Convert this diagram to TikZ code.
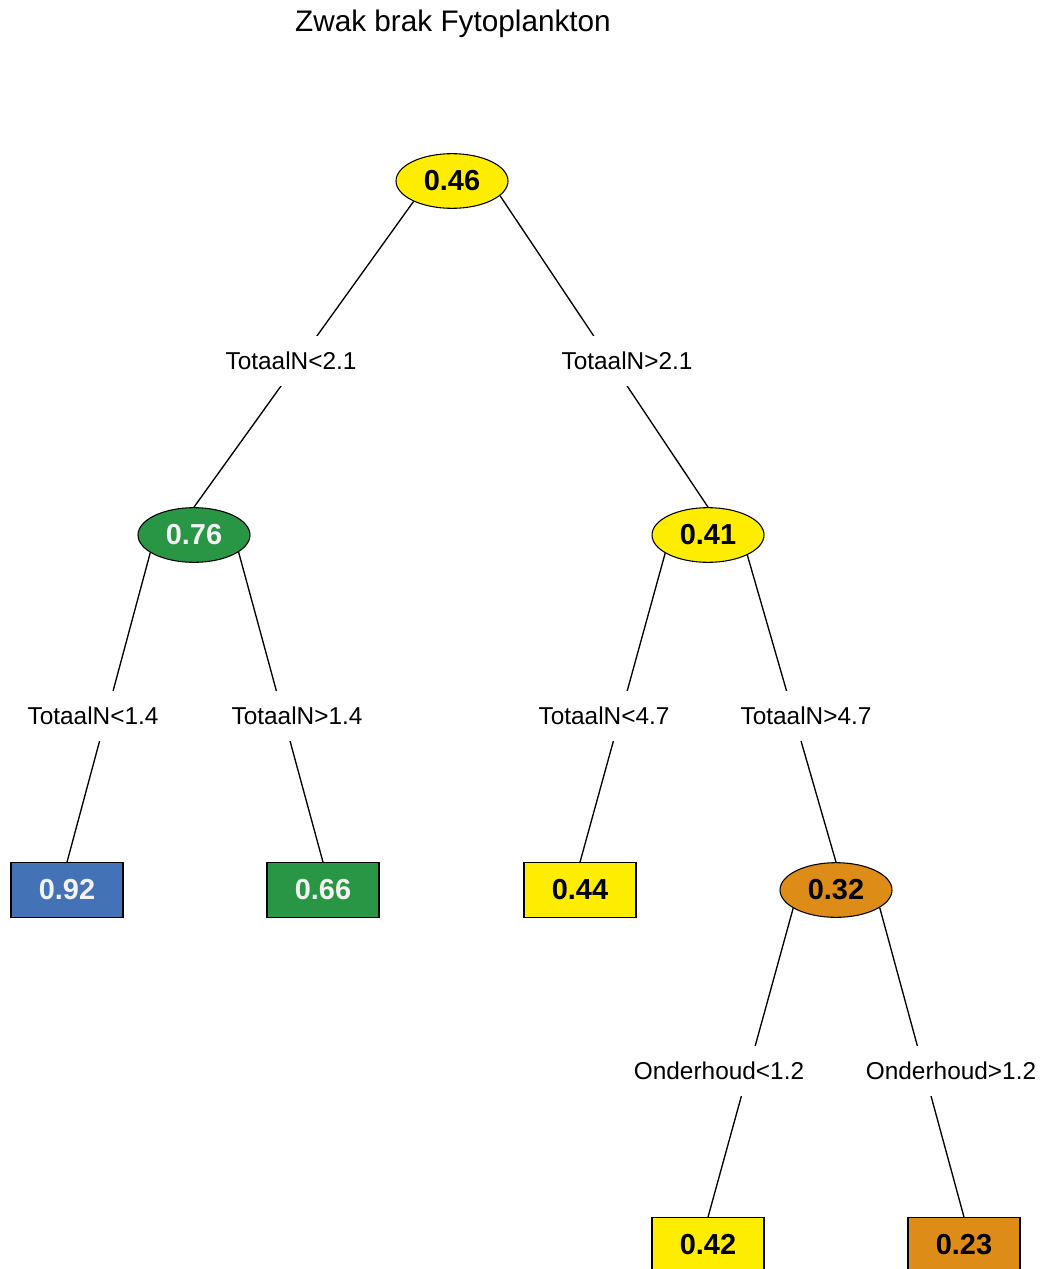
\documentclass[tikz,border=0pt]{standalone}
\usepackage{fontspec}
\setmainfont{Liberation Sans}
\usepackage{tikz}
\usetikzlibrary{shapes.geometric}

\definecolor{treeyellow}{RGB}{255,237,0}
\definecolor{treegreen}{RGB}{41,150,70}
\definecolor{treeblue}{RGB}{68,114,182}
\definecolor{treeorange}{RGB}{221,140,24}
\definecolor{lighttext}{RGB}{242,242,242}

\begin{document}
\begin{tikzpicture}[x=0.75pt,y=-0.75pt]
  \tikzset{
    split/.style={
      ellipse,draw,line width=0.8pt,minimum width=84pt,minimum height=41pt,
      inner sep=0pt,font=\fontsize{21.7}{24}\selectfont\bfseries
    },
    leaf/.style={
      rectangle,draw,line width=0.8pt,minimum width=84pt,minimum height=41pt,
      inner sep=0pt,font=\fontsize{21.7}{24}\selectfont\bfseries
    },
    cond/.style={
      fill=white,minimum height=38pt,inner xsep=1pt,inner ysep=0pt,
      font=\fontsize{18.3}{20}\selectfont
    },
    branch/.style={line width=1pt},
  }
  \useasboundingbox (0,0) rectangle (1042,1269);

  \node[font=\fontsize{22.3}{26}\selectfont] (title) at (453,24) {Zwak brak Fytoplankton};

  % splits
  \node[split,fill=treeyellow] (n046) at (452,181) {0.46};
  \node[split,fill=treegreen,text=lighttext] (n076) at (194,535) {0.76};
  \node[split,fill=treeyellow] (n041) at (708,535) {0.41};
  \node[split,fill=treeorange] (n032) at (836,890) {0.32};

  % leaves
  \node[leaf,fill=treeblue,text=lighttext] (n092) at (67,890) {0.92};
  \node[leaf,fill=treegreen,text=lighttext] (n066) at (323,890) {0.66};
  \node[leaf,fill=treeyellow] (n044) at (580,890) {0.44};
  \node[leaf,fill=treeyellow] (n042) at (708,1245) {0.42};
  \node[leaf,fill=treeorange] (n023) at (964,1245) {0.23};

  % branches
  \draw[branch] (n046.208) -- (n076.north);
  \draw[branch] (n046.343) -- (n041.north);
  \draw[branch] (n076.202) -- (n092.north);
  \draw[branch] (n076.339) -- (n066.north);
  \draw[branch] (n041.203) -- (n044.north);
  \draw[branch] (n041.333) -- (n032.north);
  \draw[branch] (n032.203) -- (n042.north);
  \draw[branch] (n032.338) -- (n023.north);

  % conditions
  \node[cond] (c21l) at (291,361) {TotaalN<2.1};
  \node[cond] (c21r) at (627,361) {TotaalN>2.1};
  \node[cond] (c14l) at (93,716) {TotaalN<1.4};
  \node[cond] (c14r) at (297,716) {TotaalN>1.4};
  \node[cond] (c47l) at (604,716) {TotaalN<4.7};
  \node[cond] (c47r) at (806,716) {TotaalN>4.7};
  \node[cond] (c12l) at (719,1071) {Onderhoud<1.2};
  \node[cond] (c12r) at (951,1071) {Onderhoud>1.2};

\end{tikzpicture}
\end{document}
